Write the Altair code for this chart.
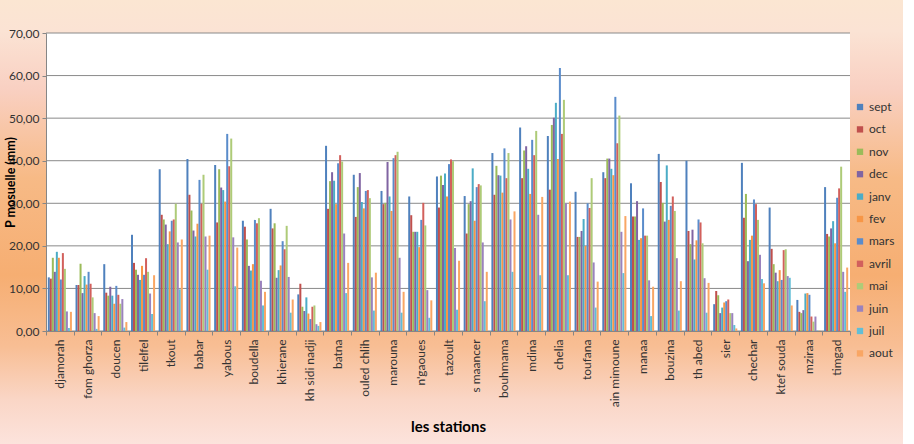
import altair as alt
import pandas as pd

stations = ["djamorah", "fom ghorza", "doucen", "tilelfel", "tkout", "babar", "yabous",
            "boudella", "khierane", "kh sidi nadji", "batna", "ouled chlih", "marouna",
            "n'gaoues", "tazoult", "s maancer", "bouhmama", "mdina", "chelia", "toufana",
            "ain mimoune", "manaa", "bouzina", "th abed", "sier", "chechar", "ktef souda",
            "mziraa", "timgad"]
months = ["sept", "oct", "nov", "dec", "janv", "fev", "mars", "avril", "mai", "juin", "juil", "aout"]
colors = ["#4F81BD", "#C0504D", "#9BBB59", "#8064A2", "#4BACC6", "#F79646",
          "#5A8CCB", "#D2605C", "#AECB78", "#9A82BD", "#62BED6", "#F9A664"]

sept = [12.6, 10.8, 15.7, 22.6, 38.0, 40.4, 39.0, 25.9, 28.7, 8.6, 43.5, 36.7, 32.9, 31.6, 36.3, 31.7, 41.8, 47.8, 45.8, 32.7, 37.3, 34.7, 41.6, 40.0, 6.3, 39.5, 29.0, 7.3, 33.8]
oct_ = [12.3, 10.8, 9.0, 16.0, 27.3, 32.0, 25.5, 24.5, 24.1, 11.1, 28.7, 26.8, 29.8, 27.2, 29.0, 22.9, 32.0, 35.9, 33.2, 22.1, 35.9, 26.9, 35.0, 23.5, 9.4, 26.6, 19.3, 4.5, 22.8]
nov = [17.2, 15.8, 8.3, 14.4, 26.2, 28.3, 38.0, 21.5, 25.3, 5.7, 35.2, 33.8, 30.1, 23.3, 36.5, 29.8, 38.8, 42.4, 48.4, 22.1, 40.5, 26.9, 30.1, 20.4, 8.4, 32.2, 15.7, 4.2, 22.2]
dec = [13.9, 8.9, 10.4, 13.2, 25.0, 23.6, 33.7, 15.3, 12.5, 4.7, 37.3, 37.1, 39.7, 23.3, 34.3, 30.5, 36.6, 43.4, 50.1, 23.5, 40.5, 30.5, 25.7, 23.8, 4.2, 16.4, 13.7, 4.9, 24.1]
janv = [18.6, 12.9, 8.3, 12.0, 20.4, 22.2, 33.1, 14.2, 14.3, 7.9, 35.3, 30.3, 31.6, 23.3, 37.0, 38.2, 36.5, 38.1, 53.6, 26.3, 38.1, 21.4, 38.9, 16.8, 5.5, 21.4, 11.7, 8.8, 25.8]
fev = [17.2, 10.9, 6.4, 15.3, 23.4, 25.2, 30.4, 15.7, 15.4, 4.1, 29.8, 28.8, 28.2, 19.7, 31.6, 25.9, 32.5, 32.2, 40.4, 20.0, 36.6, 21.8, 26.1, 21.3, 6.7, 22.4, 14.3, 8.9, 20.6]
mars = [12.1, 13.9, 10.6, 13.2, 25.9, 35.5, 46.3, 26.1, 21.1, 2.8, 39.4, 32.9, 40.6, 26.1, 39.2, 33.8, 42.9, 44.9, 61.8, 30.0, 55.0, 28.8, 29.4, 26.2, 7.0, 30.9, 12.0, 8.5, 31.3]
avril = [18.3, 11.1, 8.5, 17.1, 26.2, 29.9, 38.7, 25.3, 19.2, 5.7, 41.3, 33.1, 41.3, 30.1, 40.3, 34.5, 35.9, 41.3, 46.3, 28.9, 44.1, 22.4, 31.6, 25.5, 7.4, 29.8, 19.0, 3.4, 33.5]
mai = [14.6, 7.9, 6.4, 13.9, 29.9, 36.7, 45.2, 26.5, 24.7, 6.0, 39.8, 31.2, 42.1, 24.8, 39.9, 34.2, 41.8, 47.0, 54.3, 35.9, 50.6, 22.4, 28.2, 20.6, 4.2, 26.1, 19.2, 2.2, 38.6]
juin = [4.6, 4.2, 7.5, 8.8, 20.8, 22.2, 22.0, 11.8, 12.7, 1.6, 22.9, 12.6, 17.2, 9.6, 19.5, 20.8, 26.2, 27.3, 30.0, 16.1, 23.3, 11.9, 17.1, 12.4, 4.2, 17.9, 12.9, 3.4, 13.9]
juil = [0.7, 0.5, 0.8, 4.0, 9.8, 14.4, 10.5, 6.0, 4.3, 1.2, 8.9, 4.8, 4.3, 3.1, 5.0, 7.0, 13.9, 13.1, 13.1, 5.5, 13.6, 3.5, 4.8, 4.3, 1.4, 12.2, 12.5, 0.1, 9.2]
aout = [4.5, 3.5, 2.1, 13.1, 21.5, 22.4, 19.6, 9.2, 7.4, 2.1, 16.0, 13.7, 9.2, 7.2, 16.5, 13.9, 28.1, 31.5, 30.4, 11.6, 27.0, 10.4, 11.7, 11.3, 0.6, 11.2, 6.0, 0.1, 14.9]

grid_values = [0, 10, 20, 30, 40, 50, 60, 70]

series = [sept, oct_, nov, dec, janv, fev, mars, avril, mai, juin, juil, aout]
rows = []
for m, vals in zip(months, series):
    for s, v in zip(stations, vals):
        rows.append({"station": s, "mois": m, "P": v})
df = pd.DataFrame(rows)

W, H = 804, 298
FONT = "Lato"

bg_grad = alt.Gradient(
    gradient="linear", x1=0, y1=0, x2=0, y2=1,
    stops=[
        alt.GradientStop(offset=0, color="#FBE6D2"),
        alt.GradientStop(offset=0.07, color="#FBE3D4"),
        alt.GradientStop(offset=0.2, color="#F9D0C2"),
        alt.GradientStop(offset=0.4, color="#F7BA86"),
        alt.GradientStop(offset=0.62, color="#F6AE72"),
        alt.GradientStop(offset=0.78, color="#F8BE94"),
        alt.GradientStop(offset=0.9, color="#FAD6C6"),
        alt.GradientStop(offset=1, color="#FCE3DC"),
    ],
)

one = pd.DataFrame({"k": [0]})
bg = alt.Chart(one).mark_rect(fill=bg_grad).encode(
    x=alt.value(-46), x2=alt.value(857), y=alt.value(-33), y2=alt.value(411)
)
plotbg = alt.Chart(one).mark_rect(fill="white").encode(
    x=alt.value(0), x2=alt.value(W), y=alt.value(0), y2=alt.value(H)
)

y_axis = alt.Axis(title="P mosuelle (mm)", values=grid_values, grid=False,
                  labelExpr="replace(format(datum.value, '.2f'), '.', ',')",
                  labelFont=FONT, labelFontSize=12, labelColor="#333333",
                  tickSize=4, tickColor="#868686", domainColor="#868686", labelPadding=3,
                  titleFont=FONT, titleFontSize=12.5, titleFontWeight="bold",
                  titleColor="black", titleX=-29, zindex=1)

grid = alt.Chart(pd.DataFrame({"P": grid_values})).mark_rule(color="#8A8A8A", strokeWidth=1).encode(
    y=alt.Y("P:Q", scale=alt.Scale(domain=[0, 70]), axis=y_axis)
)

bars = alt.Chart(df).mark_bar().encode(
    x=alt.X("station:N", sort=stations,
            scale=alt.Scale(paddingInner=0, paddingOuter=0),
            axis=alt.Axis(title="les stations", labelAngle=-90, labelFont=FONT, labelFontSize=12,
                          labelColor="#333333", tickBand="extent", tickSize=4, tickColor="#868686",
                          domainColor="#868686", labelPadding=4, titleFont=FONT, titleFontSize=15,
                          titleFontWeight="bold", titleColor="black", titleY=88, zindex=1)),
    xOffset=alt.XOffset("mois:N", sort=months,
                        scale=alt.Scale(paddingInner=0, paddingOuter=0.9)),
    y=alt.Y("P:Q", scale=alt.Scale(domain=[0, 70]), axis=y_axis),
    color=alt.Color("mois:N", sort=months,
                    scale=alt.Scale(domain=months, range=colors),
                    legend=alt.Legend(title=None, orient="none", legendX=808, legendY=68,
                                      symbolType="square", symbolSize=40, symbolStrokeWidth=0,
                                      labelFont=FONT, labelFontSize=12, labelColor="#333333",
                                      rowPadding=10.4, labelOffset=3, zindex=1)),
)

chart = alt.layer(bg, plotbg, grid, bars).properties(
    width=W, height=H,
    padding={"left": 46, "top": 33, "right": 64, "bottom": 113},
    autosize=alt.AutoSizeParams(type="none"),
    background="white",
).configure_view(strokeWidth=0)

chart.save("out.html", embed_options={"renderer": "svg", "actions": False})
